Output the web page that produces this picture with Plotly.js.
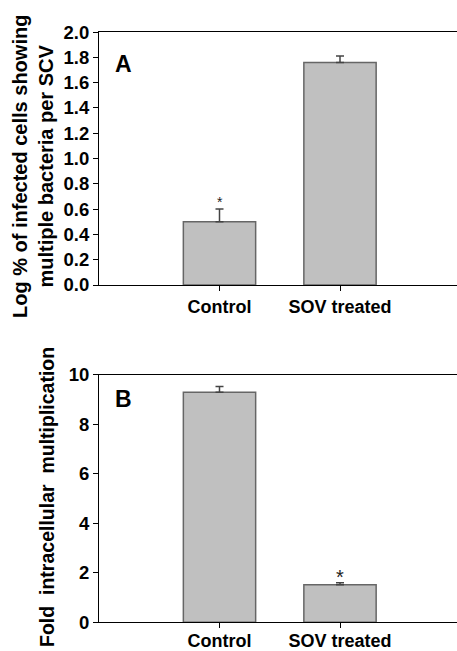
<!DOCTYPE html>
<html>
<head>
<meta charset="utf-8">
<script src="https://cdn.plot.ly/plotly-3.0.1.min.js"></script>
<style>
html,body{margin:0;padding:0;background:#fff;}
#chart{width:457px;height:651px;}
</style>
</head>
<body>
<div id="chart"></div>
<script>
// Data
var categories = ["Control", "SOV treated"];
var panelA_values = [0.50, 1.76];
var panelA_errors = [0.10, 0.05];
var panelB_values = [9.30, 1.52];
var panelB_errors = [0.23, 0.08];
var panelA_ticks = [0, 0.2, 0.4, 0.6, 0.8, 1.0, 1.2, 1.4, 1.6, 1.8, 2.0];
var panelA_ticktext = ["0.0","0.2","0.4","0.6","0.8","1.0","1.2","1.4","1.6","1.8","2.0"];
var panelB_ticks = [0, 2, 4, 6, 8, 10];

var FONT = "Arial, 'Liberation Sans', sans-serif";
var barStyle = {color: "#c0c0c0", line: {color: "#666666", width: 1.5}};
function errStyle(arr) {
  return {type: "data", array: arr, symmetric: false, arrayminus: arr.map(function(){return 0;}),
          color: "#444444", thickness: 1.5, width: 4};
}

var traces = [
  {type: "bar", x: categories, y: panelA_values, width: 0.6, marker: barStyle,
   error_y: errStyle(panelA_errors), xaxis: "x", yaxis: "y", hoverinfo: "skip"},
  {type: "bar", x: categories, y: panelB_values, width: 0.6, marker: barStyle,
   error_y: errStyle(panelB_errors), xaxis: "x2", yaxis: "y2", hoverinfo: "skip"}
];

var xCommon = {
  type: "category", range: [-1, 1.971], showline: true, linecolor: "#000", linewidth: 1,
  mirror: true, ticks: "outside", ticklen: 5, tickcolor: "#000", showgrid: false, zeroline: false,
  tickfont: {family: FONT, size: 18, color: "#000", weight: 700}, fixedrange: true
};
var yCommon = {
  showline: true, linecolor: "#000", linewidth: 1, ticks: "outside", ticklen: 5, tickcolor: "#000",
  showgrid: false, zeroline: false, tickfont: {family: FONT, size: 18.5, color: "#000", weight: 700},
  fixedrange: true
};

var layout = {
  width: 457, height: 651,
  margin: {l: 99, r: 0, t: 0, b: 0},
  paper_bgcolor: "#fff", plot_bgcolor: "#fff",
  showlegend: false,
  bargap: 0.4,
  xaxis: Object.assign({}, xCommon, {anchor: "y", domain: [0, 1]}),
  xaxis2: Object.assign({}, xCommon, {anchor: "y2", domain: [0, 1], ticklabelstandoff: -3}),
  yaxis: Object.assign({}, yCommon, {anchor: "x", domain: [0.5622, 0.9508], range: [0, 2.0],
    tickvals: panelA_ticks, ticktext: panelA_ticktext}),
  yaxis2: Object.assign({}, yCommon, {anchor: "x2", domain: [0.0441, 0.424], range: [0, 10],
    tickvals: panelB_ticks}),
  annotations: [
    {text: "Log % of infected cells showing<br>multiple bacteria per SCV", xref: "paper", yref: "paper",
     x: -0.1844, y: 0.745, xanchor: "center", yanchor: "middle", textangle: -90, showarrow: false,
     font: {family: FONT, size: 20, color: "#000", weight: 700}},
    {text: "Fold  intracellular  multiplication", xref: "paper", yref: "paper",
     x: -0.1453, y: 0.2366, xanchor: "center", yanchor: "middle", textangle: -90, showarrow: false,
     font: {family: FONT, size: 19.5, color: "#000", weight: 700}},
    {text: "A", xref: "paper", yref: "paper", x: 0.04, y: 0.902, xanchor: "left", yanchor: "middle",
     showarrow: false, font: {family: FONT, size: 23, color: "#000", weight: 700}},
    {text: "B", xref: "paper", yref: "paper", x: 0.04, y: 0.387, xanchor: "left", yanchor: "middle",
     showarrow: false, font: {family: FONT, size: 23, color: "#000", weight: 700}},
    {text: "*", xref: "x", yref: "y", x: "Control", y: 0.66, xanchor: "center", yanchor: "middle",
     showarrow: false, font: {family: FONT, size: 14, color: "#222"}},
    {text: "*", xref: "x2", yref: "y2", x: "SOV treated", y: 1.82, xanchor: "center", yanchor: "middle",
     showarrow: false, font: {family: FONT, size: 20, color: "#222"}}
  ]
};

Plotly.newPlot("chart", traces, layout, {displayModeBar: false, staticPlot: true});
</script>
</body>
</html>
